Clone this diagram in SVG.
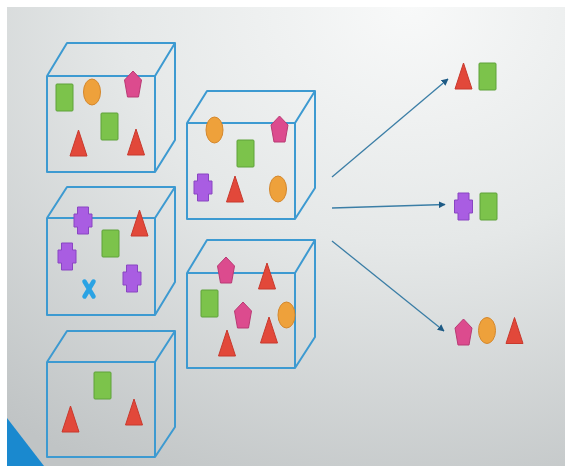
<svg xmlns="http://www.w3.org/2000/svg" xmlns:xlink="http://www.w3.org/1999/xlink" width="565" height="466" viewBox="0 0 565 466">
<style>
.box{fill:none;stroke:#3d9ad1;stroke-width:2;stroke-linejoin:round}
.red{fill:#e2483a;stroke:#c8392d;stroke-width:1}
.grn{fill:#7cc34b;stroke:#5fa23a;stroke-width:1}
.org{fill:#eea13b;stroke:#d4872c;stroke-width:1}
.pnk{fill:#dc4b8e;stroke:#b93a74;stroke-width:1}
.pur{fill:#a95de2;stroke:#8946c2;stroke-width:1}
.con{stroke:#3b7ea6;stroke-width:1.3;fill:none}
</style>
<defs>
<radialGradient id="bg" cx="0.72" cy="0" r="1.15" gradientUnits="objectBoundingBox">
<stop offset="0" stop-color="#f8f9f9"/>
<stop offset="0.45" stop-color="#e5e8e8"/>
<stop offset="1" stop-color="#c0c4c5"/>
</radialGradient>
<polygon id="tri" points="8.5,0 17,26 0,26"/>
<rect id="sq" x="0" y="0" width="17" height="27" rx="1"/>
<ellipse id="ell" cx="8.5" cy="13" rx="8.5" ry="13"/>
<polygon id="pent" points="8.5,0 17,9 14,26 3,26 0,9"/>
<path id="crs" d="M3.5,0H14.5V7H18V20H14.5V27H3.5V20H0V7H3.5Z"/>
<marker id="ah" viewBox="0 0 10 10" refX="9" refY="5" markerWidth="7" markerHeight="7" markerUnits="userSpaceOnUse" orient="auto">
<path d="M0,0L10,5L0,10Z" fill="#1d5a84"/>
</marker>
</defs>
<rect x="0" y="0" width="565" height="466" fill="#ffffff"/>
<rect x="7" y="7" width="558" height="459" fill="url(#bg)"/>
<polygon points="7,418 7,466 44,466" fill="#1a89cf"/>

<g id="box1">
<path class="box" d="M47,76H155V172H47Z M47,76L67,43H175L155,76 M175,43V140L155,172"/>
<use href="#sq" class="grn" x="56" y="84"/>
<use href="#ell" class="org" x="83.5" y="79"/>
<use href="#pent" class="pnk" x="124.5" y="71"/>
<use href="#sq" class="grn" x="101" y="113"/>
<use href="#tri" class="red" x="70" y="130"/>
<use href="#tri" class="red" x="127.5" y="129"/>
</g>

<g id="box2">
<path class="box" d="M47,218H155V315H47Z M47,218L67,187H175L155,218 M175,187V282L155,315"/>
<use href="#crs" class="pur" x="74" y="207"/>
<use href="#sq" class="grn" x="102" y="230"/>
<use href="#tri" class="red" x="131" y="210"/>
<use href="#crs" class="pur" x="58" y="243"/>
<use href="#crs" class="pur" x="123" y="265"/>
<path d="M84.5,281.5L93.5,296.5M93.5,281.5L84.5,296.5" stroke="#2ba3e4" stroke-width="4.5" stroke-linecap="round" fill="none"/>
</g>

<g id="box3">
<path class="box" d="M47,362H155V457H47Z M47,362L67,331H175L155,362 M175,331V427L155,457"/>
<use href="#sq" class="grn" x="94" y="372"/>
<use href="#tri" class="red" x="62" y="406"/>
<use href="#tri" class="red" x="125.5" y="399"/>
</g>

<g id="box4">
<path class="box" d="M187,123H295V219H187Z M187,123L207,91H315L295,123 M315,91V188L295,219"/>
<use href="#ell" class="org" x="206" y="117"/>
<use href="#pent" class="pnk" x="271" y="116"/>
<use href="#sq" class="grn" x="237" y="140"/>
<use href="#crs" class="pur" x="194" y="174"/>
<use href="#tri" class="red" x="226.5" y="176"/>
<use href="#ell" class="org" x="269.5" y="176"/>
</g>

<g id="box5">
<path class="box" d="M187,273H295V368H187Z M187,273L207,240H315L295,273 M315,240V337L295,368"/>
<use href="#pent" class="pnk" x="217.5" y="257"/>
<use href="#tri" class="red" x="258.5" y="263"/>
<use href="#sq" class="grn" x="201" y="290"/>
<use href="#pent" class="pnk" x="234.5" y="302"/>
<use href="#ell" class="org" x="278" y="302"/>
<use href="#tri" class="red" x="260.5" y="317"/>
<use href="#tri" class="red" x="218.5" y="330"/>
</g>

<g id="connectors">
<line class="con" x1="332" y1="177" x2="448" y2="79" marker-end="url(#ah)"/>
<line class="con" x1="332" y1="208" x2="445" y2="204.5" marker-end="url(#ah)"/>
<line class="con" x1="332" y1="241" x2="444" y2="331" marker-end="url(#ah)"/>
</g>

<g id="result1">
<use href="#tri" class="red" x="455" y="63"/>
<use href="#sq" class="grn" x="479" y="63"/>
</g>
<g id="result2">
<use href="#crs" class="pur" x="454.5" y="193"/>
<use href="#sq" class="grn" x="480" y="193"/>
</g>
<g id="result3">
<use href="#pent" class="pnk" x="455" y="319"/>
<use href="#ell" class="org" x="478.5" y="317.5"/>
<use href="#tri" class="red" x="506" y="317.5"/>
</g>
</svg>
